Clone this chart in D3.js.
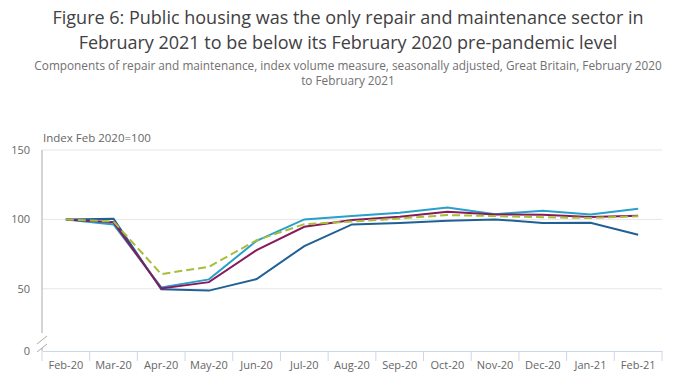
<!DOCTYPE html>
<html>
<head>
<meta charset="utf-8">
<script src="https://d3js.org/d3.v7.min.js"></script>
<style>
  body { margin: 0; background: #fff; }
  svg { display: block; font-family: "Open Sans", sans-serif; }
  .title { fill: #414042; font-size: 18px; }
  .subtitle { fill: #707071; font-size: 11.8px; }
  .axis text { fill: #666; font-size: 11px; font-family: "Open Sans", sans-serif; }
</style>
</head>
<body>
<svg width="696" height="385"></svg>
<script>
const months = ["Feb-20", "Mar-20", "Apr-20", "May-20", "Jun-20", "Jul-20", "Aug-20",
  "Sep-20", "Oct-20", "Nov-20", "Dec-20", "Jan-21", "Feb-21"];

// values
const publicHousing = [100, 100.5, 49.6, 48.7, 57, 80.8, 96.4, 97.5, 99, 100, 97.5, 97.6, 88.9];
const privateHousing = [100, 96.4, 51, 56.8, 84.6, 100, 102.4, 104.8, 108.6, 103.8, 106.2, 103.6, 107.6];
const nonHousing = [100, 97.9, 50.3, 54.8, 77.9, 94.7, 99.5, 101.9, 105.5, 103.6, 103.4, 101.7, 102.6];
const allRepair = [100, 98.5, 60.6, 65.9, 85, 96.6, 98.5, 100.7, 103.1, 102.4, 101.6, 101, 102.3];

const yTicks = [150, 100, 50];

const series = [
  { name: "Public housing", values: publicHousing, color: "#206095", dash: null },
  { name: "Private housing", values: privateHousing, color: "#27a0cc", dash: null },
  { name: "Non-housing", values: nonHousing, color: "#871a5b", dash: null },
  { name: "All repair and maintenance", values: allRepair, color: "#a8bd3a", dash: "8,4" }
];

const svg = d3.select("svg");

const margin = { top: 150, left: 42, right: 34, bottom: 34 };
const width = +svg.attr("width");
const height = +svg.attr("height");
const innerW = width - margin.left - margin.right;
const innerH = height - margin.top - margin.bottom;

// titles
const titleLines = ["Figure 6: Public housing was the only repair and maintenance sector in",
  "February 2021 to be below its February 2020 pre-pandemic level"];
svg.selectAll(".title").data(titleLines).enter().append("text")
  .attr("class", "title")
  .attr("x", width / 2)
  .attr("y", (d, i) => 24 + i * 25)
  .attr("text-anchor", "middle")
  .text(d => d);

const subLines = ["Components of repair and maintenance, index volume measure, seasonally adjusted, Great Britain, February 2020",
  "to February 2021"];
svg.selectAll(".subtitle").data(subLines).enter().append("text")
  .attr("class", "subtitle")
  .attr("x", width / 2)
  .attr("y", (d, i) => 70 + i * 15)
  .attr("text-anchor", "middle")
  .text(d => d);

const g = svg.append("g").attr("transform", `translate(${margin.left},${margin.top})`);

const x = d3.scaleBand().domain(months).range([0, innerW]);
// axis is broken: bottom of the plot stands for 0
const y = d3.scaleLinear().domain([5.2, 150]).range([innerH, 0]);

// gridlines
g.append("g").selectAll("line").data(yTicks).enter().append("line")
  .attr("x1", 0).attr("x2", innerW)
  .attr("y1", d => y(d)).attr("y2", d => y(d))
  .attr("stroke", "#e6e6e6");

// y labels
const yAxis = g.append("g").attr("class", "axis");
yAxis.selectAll("text").data(yTicks).enter().append("text")
  .attr("x", -12).attr("y", d => y(d)).attr("dy", "0.35em")
  .attr("text-anchor", "end")
  .text(d => d);
yAxis.append("text")
  .attr("x", -12).attr("y", innerH).attr("dy", "0.35em")
  .attr("text-anchor", "end").text("0");

// y axis line with break
g.append("line").attr("x1", 0).attr("x2", 0).attr("y1", 0).attr("y2", innerH - 18)
  .attr("stroke", "#aaa").attr("stroke-width", 1);
g.append("line").attr("x1", 0).attr("x2", 0).attr("y1", innerH - 3).attr("y2", innerH)
  .attr("stroke", "#aaa").attr("stroke-width", 1);
[innerH - 11, innerH - 3].forEach(yy => {
  g.append("line")
    .attr("x1", -5).attr("y1", yy + 4)
    .attr("x2", 5).attr("y2", yy - 4)
    .attr("stroke", "#aaa");
});

// x axis
const xAxisG = g.append("g").attr("class", "axis")
  .attr("transform", `translate(0,${innerH})`)
  .call(d3.axisBottom(x).tickSize(0).tickPadding(10));
xAxisG.select(".domain").attr("stroke", "#ccd6eb");
xAxisG.selectAll(".tick text").attr("fill", "#666");
const bounds = months.map(m => x(m)).concat([innerW]);
xAxisG.selectAll(".bound").data(bounds).enter().append("line")
  .attr("class", "bound")
  .attr("x1", d => d).attr("x2", d => d)
  .attr("y1", 0).attr("y2", 10)
  .attr("stroke", "#ccd6eb");

g.append("text")
  .attr("x", 1).attr("y", -8)
  .attr("fill", "#666").attr("font-size", "11.5px")
  .text("Index Feb 2020=100");

// lines
const line = d3.line()
  .x((d, i) => x(months[i]) + x.bandwidth() / 2)
  .y(d => y(d));

g.selectAll(".series").data(series).enter().append("path")
  .attr("class", "series")
  .attr("d", d => line(d.values))
  .attr("fill", "none")
  .attr("stroke", d => d.color)
  .attr("stroke-width", 2)
  .attr("stroke-dasharray", d => d.dash);
</script>
</body>
</html>
